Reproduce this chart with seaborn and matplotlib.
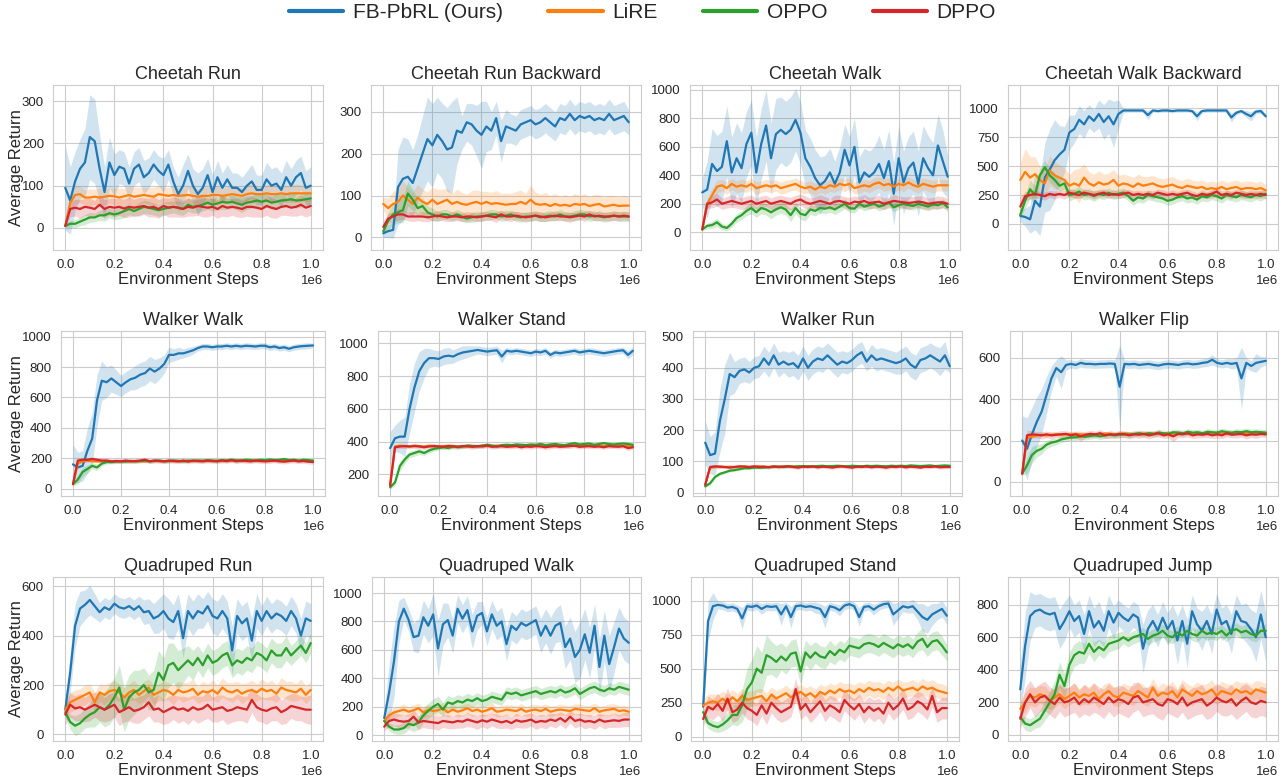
import numpy as np
import pandas as pd
import matplotlib
matplotlib.use("Agg")
import matplotlib.pyplot as plt
from matplotlib.lines import Line2D
from matplotlib.ticker import MultipleLocator
import matplotlib.transforms as mtransforms
import seaborn as sns

# evaluation checkpoints (every 20k environment steps)
steps = np.linspace(0, 1_000_000, 51)
methods = ["FB-PbRL (Ours)", "LiRE", "OPPO", "DPPO"]
colors = ["#1f77b4", "#ff7f0e", "#2ca02c", "#d62728"]

# ---------------- Cheetah Run ----------------
cr_fb = [95, 65, 110, 140, 155, 215, 205, 140, 85, 155,
         125, 145, 140, 105, 140, 150, 120, 130, 150, 135,
         125, 150, 110, 80, 100, 135, 100, 80, 95, 125,
         85, 120, 95, 115, 95, 95, 85, 100, 110, 90,
         90, 115, 100, 105, 90, 120, 100, 120, 130, 95,
         100]
cr_fb_sd = [100, 80, 70, 70, 80, 100, 100, 80, 60, 60,
            50, 40, 40, 40, 40, 40, 40, 35, 35, 35,
            40, 35, 35, 40, 50, 40, 40, 50, 45, 40,
            40, 40, 35, 35, 35, 35, 35, 35, 40, 35,
            35, 40, 40, 40, 40, 40, 40, 40, 40, 40,
            45]
cr_lire = [5, 60, 78, 80, 72, 72, 74, 72, 74, 76,
           75, 72, 75, 78, 74, 76, 78, 76, 74, 80,
           78, 76, 78, 76, 77, 78, 76, 74, 76, 76,
           78, 78, 76, 78, 80, 78, 76, 80, 82, 80,
           80, 82, 80, 80, 82, 80, 82, 82, 82, 82,
           82]
cr_lire_sd = [5, 20, 22, 20, 18, 20, 18, 22, 20, 18,
              20, 22, 18, 20, 22, 20, 18, 20, 22, 20,
              18, 20, 22, 20, 18, 20, 22, 18, 20, 20,
              22, 20, 18, 20, 22, 20, 18, 20, 22, 20,
              18, 20, 22, 20, 18, 20, 20, 22, 20, 18,
              20]
cr_oppo = [5, 10, 10, 15, 20, 25, 25, 30, 30, 35,
           32, 35, 40, 45, 40, 45, 50, 48, 45, 42,
           45, 48, 50, 48, 45, 55, 50, 52, 55, 60,
           55, 58, 62, 60, 62, 58, 55, 60, 62, 65,
           62, 65, 60, 62, 65, 66, 68, 65, 66, 68,
           70]
cr_oppo_sd = [5, 8, 10, 10, 12, 12, 10, 12, 14, 12,
              12, 14, 15, 14, 12, 15, 16, 15, 14, 15,
              16, 15, 14, 16, 15, 16, 15, 16, 15, 16,
              15, 16, 18, 16, 15, 16, 18, 16, 15, 16,
              18, 16, 15, 18, 16, 15, 16, 18, 16, 15,
              16]
cr_dppo = [5, 45, 48, 45, 50, 48, 45, 55, 45, 50,
           48, 50, 46, 50, 48, 50, 52, 48, 50, 45,
           52, 48, 50, 48, 45, 50, 48, 52, 50, 48,
           50, 45, 52, 48, 50, 48, 45, 50, 50, 48,
           45, 52, 48, 45, 50, 52, 48, 50, 55, 48,
           52]
cr_dppo_sd = [5, 18, 20, 22, 20, 22, 20, 24, 22, 20,
              22, 20, 22, 24, 20, 22, 20, 22, 24, 22,
              20, 22, 24, 22, 20, 22, 20, 22, 24, 22,
              20, 22, 24, 22, 20, 22, 20, 22, 24, 22,
              20, 22, 24, 22, 20, 22, 20, 22, 24, 22,
              22]

# ---------------- Cheetah Run Backward ----------------
crb_fb = [10, 15, 18, 120, 140, 145, 130, 165, 200, 235,
          220, 245, 230, 210, 215, 255, 250, 275, 270, 255,
          245, 265, 255, 285, 230, 265, 260, 255, 270, 275,
          280, 270, 275, 285, 275, 265, 285, 280, 295, 280,
          290, 285, 290, 280, 285, 280, 295, 280, 285, 290,
          275]
crb_fb_sd = [10, 15, 20, 90, 100, 90, 80, 80, 90, 100,
             100, 90, 90, 100, 110, 80, 40, 45, 50, 60,
             80, 60, 45, 40, 50, 40, 35, 35, 35, 35,
             35, 35, 35, 35, 35, 35, 35, 35, 35, 35,
             35, 35, 35, 35, 35, 35, 35, 35, 35, 35,
             30]
crb_lire = [80, 70, 80, 85, 100, 90, 80, 95, 85, 80,
            90, 80, 85, 90, 80, 85, 80, 78, 82, 85,
            80, 85, 80, 82, 80, 78, 80, 80, 85, 80,
            90, 80, 78, 80, 75, 80, 76, 78, 75, 80,
            78, 80, 75, 78, 80, 74, 76, 78, 75, 76,
            76]
crb_lire_sd = [15, 25, 30, 30, 35, 30, 28, 32, 30, 28,
               30, 35, 30, 28, 25, 30, 28, 25, 30, 28,
               30, 25, 28, 30, 25, 28, 25, 30, 28, 25,
               35, 28, 25, 28, 25, 25, 22, 25, 22, 25,
               22, 25, 22, 25, 22, 22, 25, 22, 22, 25,
               22]
crb_oppo = [15, 40, 55, 60, 65, 105, 90, 70, 75, 60,
            55, 50, 55, 55, 50, 55, 50, 45, 48, 50,
            50, 52, 55, 55, 50, 52, 55, 50, 48, 50,
            50, 52, 48, 50, 52, 50, 55, 50, 50, 52,
            55, 55, 50, 52, 50, 48, 50, 52, 50, 50,
            50]
crb_oppo_sd = [10, 20, 25, 25, 30, 30, 25, 20, 20, 15,
               15, 12, 12, 12, 10, 12, 12, 10, 12, 12,
               10, 12, 12, 10, 12, 12, 10, 12, 12, 10,
               12, 12, 10, 12, 12, 10, 12, 12, 10, 12,
               12, 10, 12, 12, 10, 12, 12, 10, 12, 12,
               12]
crb_dppo = [25, 45, 50, 55, 55, 50, 50, 50, 50, 48,
            50, 52, 50, 48, 50, 50, 48, 50, 50, 48,
            50, 52, 50, 48, 55, 50, 50, 52, 50, 48,
            50, 52, 50, 48, 50, 52, 50, 50, 48, 50,
            52, 50, 55, 50, 52, 50, 50, 52, 50, 52,
            50]
crb_dppo_sd = [15, 12, 12, 14, 12, 10, 12, 10, 12, 10,
               10, 12, 10, 10, 12, 10, 10, 12, 10, 10,
               12, 10, 10, 12, 10, 10, 12, 10, 10, 12,
               10, 10, 12, 10, 10, 12, 10, 10, 12, 10,
               10, 12, 10, 10, 12, 10, 10, 12, 10, 10,
               10]

# ---------------- Cheetah Walk ----------------
cw_fb = [280, 300, 480, 430, 460, 640, 420, 520, 450, 620,
         700, 420, 620, 750, 520, 690, 720, 690, 720, 790,
         700, 520, 460, 380, 330, 360, 420, 340, 420, 580,
         470, 600, 350, 420, 390, 420, 480, 380, 500, 270,
         520, 350, 450, 490, 340, 520, 450, 400, 610, 500,
         390]
cw_fb_sd = [100, 200, 250, 250, 250, 250, 250, 250, 250, 230,
            230, 250, 250, 250, 250, 250, 230, 230, 230, 220,
            220, 200, 200, 200, 200, 180, 170, 160, 180, 180,
            200, 200, 180, 170, 180, 180, 200, 200, 220, 220,
            230, 220, 220, 220, 230, 230, 230, 230, 220, 220,
            150]
cw_lire = [20, 200, 260, 320, 330, 310, 340, 320, 330, 320,
           340, 310, 320, 330, 320, 330, 310, 320, 330, 340,
           320, 310, 320, 300, 320, 310, 330, 320, 340, 330,
           340, 310, 320, 330, 320, 340, 350, 330, 340, 320,
           340, 330, 350, 330, 320, 340, 330, 320, 330, 330,
           330]
cw_lire_sd = [10, 40, 50, 45, 40, 45, 40, 42, 45, 40,
              42, 45, 40, 42, 45, 40, 42, 45, 40, 42,
              45, 40, 42, 45, 40, 42, 45, 40, 42, 45,
              40, 42, 45, 40, 42, 45, 40, 42, 45, 40,
              42, 45, 40, 42, 45, 40, 42, 45, 40, 42,
              40]
cw_oppo = [20, 45, 50, 70, 40, 30, 60, 100, 120, 150,
           170, 140, 170, 160, 140, 160, 175, 160, 120, 170,
           130, 120, 160, 150, 170, 165, 175, 160, 180, 200,
           170, 165, 200, 180, 190, 200, 180, 190, 210, 175,
           190, 200, 190, 185, 200, 190, 180, 195, 190, 205,
           175]
cw_oppo_sd = [10, 20, 25, 30, 25, 20, 25, 30, 30, 35,
              40, 35, 40, 40, 45, 40, 40, 40, 45, 40,
              40, 40, 35, 35, 35, 35, 35, 35, 35, 35,
              30, 30, 30, 30, 30, 30, 30, 30, 30, 30,
              30, 30, 30, 30, 30, 30, 30, 30, 30, 30,
              30]
cw_dppo = [20, 200, 210, 230, 200, 210, 220, 210, 200, 210,
           220, 200, 210, 220, 200, 210, 220, 210, 200, 220,
           230, 210, 200, 210, 220, 210, 200, 215, 220, 210,
           200, 215, 210, 220, 205, 210, 215, 200, 210, 220,
           215, 210, 205, 210, 215, 210, 200, 205, 210, 210,
           200]
cw_dppo_sd = [10, 30, 40, 45, 40, 40, 45, 40, 40, 45,
              40, 40, 45, 40, 40, 45, 40, 40, 45, 40,
              40, 45, 40, 40, 45, 40, 40, 45, 40, 40,
              45, 40, 40, 45, 40, 40, 45, 40, 40, 45,
              40, 40, 45, 40, 40, 45, 40, 40, 45, 40,
              40]

# ---------------- Cheetah Walk Backward ----------------
cwb_fb = [70, 60, 40, 200, 150, 400, 470, 550, 600, 640,
          790, 820, 900, 860, 930, 890, 950, 880, 930, 860,
          950, 980, 980, 980, 980, 980, 940, 980, 975, 980,
          980, 975, 980, 980, 980, 975, 930, 975, 980, 980,
          980, 980, 980, 920, 960, 975, 950, 930, 970, 975,
          930]
cwb_fb_sd = [50, 80, 120, 250, 250, 300, 350, 350, 250, 200,
             150, 120, 120, 120, 100, 100, 120, 150, 150, 200,
             120, 20, 15, 15, 15, 15, 40, 15, 15, 15,
             15, 15, 15, 15, 15, 15, 40, 15, 15, 15,
             15, 15, 15, 40, 20, 15, 30, 40, 20, 20,
             20]
cwb_lire = [380, 450, 400, 430, 380, 350, 460, 420, 400, 380,
            330, 350, 330, 400, 350, 330, 360, 340, 350, 380,
            330, 350, 340, 320, 350, 330, 340, 350, 330, 320,
            330, 340, 320, 310, 330, 320, 310, 320, 300, 310,
            300, 320, 300, 310, 320, 300, 310, 310, 300, 310,
            290]
cwb_lire_sd = [150, 200, 180, 150, 120, 120, 130, 120, 110, 100,
               100, 120, 150, 120, 100, 100, 100, 90, 90, 90,
               90, 80, 80, 80, 80, 80, 70, 70, 70, 70,
               70, 70, 65, 65, 65, 60, 60, 60, 60, 60,
               60, 60, 60, 60, 60, 60, 60, 60, 60, 60,
               50]
cwb_oppo = [80, 200, 300, 250, 420, 490, 420, 380, 330, 350,
            250, 260, 280, 250, 260, 240, 260, 250, 270, 250,
            260, 270, 240, 200, 230, 220, 250, 240, 230, 220,
            200, 210, 230, 240, 220, 230, 210, 240, 230, 250,
            240, 220, 250, 240, 230, 250, 240, 230, 250, 240,
            260]
cwb_oppo_sd = [40, 60, 80, 80, 60, 60, 60, 60, 50, 50,
               50, 45, 45, 45, 45, 45, 40, 40, 40, 40,
               40, 40, 40, 40, 40, 40, 40, 40, 40, 40,
               40, 40, 40, 40, 40, 40, 40, 40, 40, 40,
               40, 40, 40, 40, 40, 40, 40, 40, 40, 40,
               40]
cwb_dppo = [150, 240, 250, 260, 250, 240, 260, 250, 260, 250,
            270, 260, 250, 270, 260, 250, 260, 270, 250, 260,
            250, 260, 270, 250, 260, 250, 260, 250, 270, 260,
            250, 260, 250, 260, 270, 250, 240, 260, 250, 260,
            280, 250, 260, 250, 270, 260, 250, 260, 250, 260,
            250]
cwb_dppo_sd = [80, 40, 35, 35, 30, 35, 30, 35, 30, 35,
               30, 35, 30, 35, 30, 35, 30, 35, 30, 35,
               30, 35, 30, 35, 30, 35, 30, 35, 30, 35,
               30, 35, 30, 35, 30, 35, 30, 35, 30, 35,
               50, 35, 30, 35, 30, 35, 30, 35, 30, 35,
               30]

# ---------------- Walker Walk ----------------
ww_fb = [160, 140, 150, 250, 330, 580, 710, 700, 725, 700,
         675, 700, 720, 730, 750, 760, 790, 770, 790, 820,
         880, 880, 890, 890, 900, 910, 925, 935, 935, 930,
         935, 935, 940, 935, 940, 935, 940, 938, 935, 940,
         940, 930, 935, 925, 930, 920, 930, 935, 938, 940,
         942]
ww_fb_sd = [130, 100, 100, 150, 170, 170, 130, 100, 90, 80,
            70, 70, 70, 80, 80, 80, 80, 80, 70, 60,
            50, 40, 40, 30, 30, 25, 20, 20, 20, 20,
            20, 20, 20, 20, 20, 20, 20, 20, 20, 20,
            20, 20, 20, 20, 20, 20, 20, 20, 20, 20,
            15]
ww_lire = [30, 165, 180, 185, 180, 180, 180, 182, 180, 182,
           180, 182, 183, 180, 182, 180, 182, 184, 182, 180,
           182, 182, 180, 182, 182, 183, 182, 184, 182, 182,
           183, 182, 182, 183, 184, 182, 183, 182, 184, 182,
           183, 182, 184, 183, 182, 183, 184, 182, 183, 182,
           180]
ww_lire_sd = [10, 10, 8, 8, 8, 8, 8, 8, 8, 8,
              8, 8, 8, 8, 8, 8, 8, 8, 8, 8,
              8, 8, 8, 8, 8, 8, 8, 8, 8, 8,
              8, 8, 8, 8, 8, 8, 8, 8, 8, 8,
              8, 8, 8, 8, 8, 8, 8, 8, 8, 8,
              8]
ww_oppo = [30, 60, 110, 130, 150, 140, 165, 175, 175, 178,
           180, 178, 182, 180, 182, 185, 180, 182, 185, 180,
           182, 185, 183, 180, 185, 182, 185, 183, 187, 185,
           183, 188, 185, 190, 187, 185, 190, 188, 185, 190,
           188, 192, 188, 190, 195, 188, 190, 185, 190, 188,
           185]
ww_oppo_sd = [10, 30, 30, 25, 20, 20, 15, 12, 12, 12,
              12, 12, 12, 12, 12, 12, 12, 12, 12, 12,
              12, 12, 12, 12, 12, 12, 12, 12, 12, 12,
              12, 12, 12, 12, 12, 12, 12, 12, 12, 12,
              12, 12, 12, 12, 12, 12, 12, 12, 12, 12,
              12]
ww_dppo = [30, 185, 190, 190, 195, 190, 185, 185, 180, 182,
           180, 185, 180, 182, 185, 190, 180, 185, 182, 180,
           185, 182, 180, 185, 178, 185, 182, 180, 185, 182,
           180, 185, 182, 188, 180, 185, 182, 180, 185, 182,
           180, 182, 185, 180, 178, 182, 185, 180, 182, 178,
           175]
ww_dppo_sd = [10, 15, 15, 15, 15, 15, 15, 15, 15, 15,
              15, 15, 15, 15, 15, 15, 15, 15, 15, 15,
              15, 15, 15, 15, 15, 15, 15, 15, 15, 15,
              15, 15, 15, 15, 15, 15, 15, 15, 15, 15,
              15, 15, 15, 15, 15, 15, 15, 15, 15, 15,
              15]

# ---------------- Walker Stand ----------------
ws_fb = [360, 420, 430, 430, 600, 730, 830, 880, 910, 910,
         905, 920, 925, 920, 935, 945, 950, 955, 960, 955,
         950, 955, 958, 920, 955, 950, 955, 950, 945, 940,
         950, 945, 955, 930, 945, 940, 945, 950, 955, 945,
         950, 955, 950, 945, 940, 945, 950, 955, 958, 930,
         955]
ws_fb_sd = [100, 80, 100, 120, 150, 150, 120, 90, 60, 50,
            50, 50, 50, 40, 40, 40, 35, 30, 25, 25,
            25, 25, 25, 40, 20, 20, 20, 20, 20, 20,
            20, 20, 20, 20, 20, 20, 20, 20, 20, 20,
            20, 20, 20, 20, 20, 20, 20, 20, 20, 25,
            25]
ws_lire = [140, 370, 375, 372, 370, 375, 372, 370, 375, 373,
           370, 372, 375, 373, 370, 372, 375, 374, 372, 375,
           373, 372, 375, 374, 372, 375, 374, 373, 375, 372,
           374, 375, 373, 372, 375, 374, 373, 375, 374, 372,
           375, 373, 374, 375, 373, 374, 372, 375, 373, 372,
           370]
ws_lire_sd = [20, 8, 8, 10, 8, 8, 10, 8, 8, 10,
              8, 8, 10, 8, 8, 10, 8, 8, 10, 8,
              8, 10, 8, 8, 10, 8, 8, 10, 8, 8,
              10, 8, 8, 10, 8, 8, 10, 8, 8, 10,
              8, 8, 10, 8, 8, 10, 8, 8, 10, 8,
              8]
ws_oppo = [120, 150, 250, 290, 320, 330, 340, 330, 345, 355,
           360, 365, 360, 370, 365, 370, 375, 372, 370, 375,
           380, 375, 370, 378, 380, 378, 382, 380, 378, 382,
           380, 385, 378, 382, 385, 380, 378, 385, 390, 382,
           385, 388, 380, 385, 390, 385, 382, 385, 388, 385,
           380]
ws_oppo_sd = [10, 20, 30, 25, 20, 20, 18, 15, 15, 15,
              12, 12, 12, 12, 12, 12, 12, 12, 12, 12,
              12, 12, 12, 12, 12, 12, 12, 12, 12, 12,
              12, 12, 12, 12, 12, 12, 12, 12, 12, 12,
              12, 12, 12, 12, 12, 12, 12, 12, 12, 12,
              12]
ws_dppo = [130, 365, 370, 372, 370, 372, 370, 365, 370, 372,
           370, 368, 372, 370, 368, 372, 370, 368, 372, 370,
           375, 368, 370, 372, 368, 370, 372, 365, 370, 368,
           372, 370, 365, 370, 372, 368, 370, 372, 375, 368,
           370, 372, 368, 370, 365, 372, 370, 368, 372, 360,
           365]
ws_dppo_sd = [20, 12, 12, 14, 12, 15, 12, 14, 12, 15,
              12, 14, 12, 15, 12, 14, 12, 15, 12, 14,
              12, 15, 12, 14, 12, 15, 12, 14, 12, 15,
              12, 14, 12, 15, 12, 14, 12, 15, 12, 14,
              12, 15, 12, 14, 12, 15, 12, 14, 12, 15,
              12]

# ---------------- Walker Run ----------------
wr_fb = [160, 120, 125, 230, 300, 380, 370, 390, 395, 385,
         400, 405, 430, 410, 440, 410, 420, 410, 415, 400,
         430, 400, 420, 430, 425, 440, 425, 410, 420, 415,
         425, 440, 450, 420, 440, 425, 430, 425, 420, 415,
         420, 430, 410, 400, 425, 430, 440, 430, 420, 440,
         405]
wr_fb_sd = [70, 60, 70, 100, 110, 70, 50, 40, 40, 35,
            35, 35, 40, 40, 40, 40, 35, 40, 40, 40,
            40, 40, 40, 40, 40, 40, 40, 40, 35, 35,
            35, 35, 35, 30, 35, 35, 35, 35, 35, 35,
            40, 40, 40, 40, 40, 40, 40, 40, 45, 45,
            20]
wr_lire = [25, 80, 82, 83, 82, 83, 82, 83, 84, 82,
           83, 84, 83, 82, 84, 83, 84, 85, 83, 84,
           83, 85, 84, 83, 84, 85, 84, 83, 85, 84,
           83, 84, 85, 84, 83, 85, 84, 83, 84, 85,
           84, 83, 85, 84, 83, 84, 85, 84, 83, 84,
           84]
wr_lire_sd = [3, 4, 3, 4, 3, 4, 3, 4, 3, 4,
              3, 4, 3, 4, 3, 4, 3, 4, 3, 4,
              3, 4, 3, 4, 3, 4, 3, 4, 3, 4,
              3, 4, 3, 4, 3, 4, 3, 4, 3, 4,
              3, 4, 3, 4, 3, 4, 3, 4, 3, 4,
              3]
wr_oppo = [20, 30, 50, 60, 65, 70, 72, 75, 78, 78,
           80, 80, 80, 82, 82, 83, 82, 84, 83, 84,
           85, 84, 83, 85, 86, 84, 85, 86, 85, 84,
           86, 85, 84, 86, 85, 86, 85, 84, 86, 85,
           86, 85, 87, 86, 85, 86, 87, 85, 86, 87,
           86]
wr_oppo_sd = [4, 6, 5, 5, 4, 4, 4, 4, 4, 4,
              4, 4, 4, 4, 4, 4, 4, 4, 4, 4,
              4, 4, 4, 4, 4, 4, 4, 4, 4, 4,
              4, 4, 4, 4, 4, 4, 4, 4, 4, 4,
              4, 4, 4, 4, 4, 4, 4, 4, 4, 4,
              4]
wr_dppo = [25, 82, 84, 83, 82, 80, 82, 84, 83, 82,
           84, 82, 83, 81, 84, 82, 83, 84, 82, 80,
           83, 82, 84, 81, 83, 82, 80, 83, 84, 82,
           80, 83, 82, 84, 81, 83, 82, 80, 83, 82,
           84, 81, 83, 82, 80, 83, 82, 84, 81, 82,
           82]
wr_dppo_sd = [4, 5, 5, 6, 5, 6, 5, 6, 5, 6,
              5, 6, 5, 6, 5, 6, 5, 6, 5, 6,
              5, 6, 5, 6, 5, 6, 5, 6, 5, 6,
              5, 6, 5, 6, 5, 6, 5, 6, 5, 6,
              5, 6, 5, 6, 5, 6, 5, 6, 5, 6,
              5]

# ---------------- Walker Flip ----------------
wf_fb = [200, 160, 230, 290, 340, 420, 500, 550, 530, 565,
         570, 565, 575, 570, 570, 568, 570, 570, 572, 570,
         460, 570, 568, 570, 565, 568, 570, 565, 562, 568,
         570, 568, 565, 570, 572, 568, 570, 575, 578, 590,
         575, 570, 575, 570, 575, 500, 575, 560, 575, 580,
         585]
wf_fb_sd = [120, 150, 130, 120, 110, 90, 60, 40, 80, 25,
            20, 20, 20, 20, 20, 20, 20, 20, 20, 20,
            200, 20, 20, 20, 20, 20, 20, 20, 20, 20,
            20, 20, 20, 20, 20, 20, 20, 20, 20, 25,
            20, 20, 20, 25, 25, 150, 25, 25, 45, 25,
            20]
wf_lire = [40, 210, 220, 225, 228, 225, 228, 230, 228, 230,
           230, 232, 230, 228, 232, 230, 232, 234, 232, 230,
           232, 234, 232, 230, 234, 232, 235, 233, 232, 234,
           235, 233, 234, 236, 234, 235, 233, 236, 235, 234,
           236, 235, 234, 236, 235, 237, 235, 236, 237, 235,
           236]
wf_lire_sd = [10, 10, 8, 8, 8, 8, 8, 8, 8, 8,
              8, 8, 8, 8, 8, 8, 8, 8, 8, 8,
              8, 8, 8, 8, 8, 8, 8, 8, 8, 8,
              8, 8, 8, 8, 8, 8, 8, 8, 8, 8,
              8, 8, 8, 8, 8, 8, 8, 8, 8, 8,
              8]
wf_oppo = [40, 80, 130, 150, 160, 180, 190, 195, 205, 210,
           215, 215, 220, 218, 222, 225, 220, 225, 228, 225,
           228, 230, 228, 232, 235, 230, 235, 232, 238, 235,
           232, 240, 238, 235, 242, 238, 240, 235, 242, 240,
           238, 245, 240, 238, 242, 240, 245, 240, 242, 240,
           238]
wf_oppo_sd = [10, 40, 40, 30, 25, 20, 18, 15, 15, 15,
              15, 15, 15, 15, 15, 15, 15, 15, 15, 15,
              15, 15, 15, 15, 15, 15, 15, 15, 15, 15,
              15, 15, 15, 15, 15, 15, 15, 15, 15, 15,
              15, 15, 15, 15, 15, 15, 15, 15, 15, 15,
              15]
wf_dppo = [40, 225, 230, 228, 225, 230, 225, 228, 230, 232,
           225, 230, 220, 228, 232, 230, 235, 225, 230, 228,
           232, 230, 225, 230, 228, 232, 225, 230, 235, 225,
           230, 220, 232, 230, 235, 225, 230, 228, 232, 225,
           230, 225, 235, 228, 230, 232, 225, 230, 228, 232,
           230]
wf_dppo_sd = [10, 25, 18, 15, 18, 15, 18, 15, 18, 15,
              18, 15, 25, 15, 18, 15, 18, 15, 18, 15,
              18, 15, 18, 15, 18, 15, 18, 15, 18, 15,
              18, 25, 18, 15, 18, 15, 18, 15, 18, 15,
              18, 15, 18, 15, 18, 15, 18, 15, 18, 15,
              15]

# ---------------- Quadruped Run ----------------
qr_fb = [100, 250, 440, 510, 525, 545, 520, 495, 515, 505,
         530, 515, 510, 520, 505, 520, 495, 500, 470, 480,
         500, 470, 455, 500, 390, 500, 470, 500, 490, 520,
         480, 470, 500, 470, 340, 480, 450, 470, 380, 500,
         460, 500, 470, 490, 480, 460, 500, 470, 400, 470,
         460]
qr_fb_sd = [40, 80, 90, 70, 60, 60, 50, 40, 40, 40,
            40, 40, 40, 40, 40, 40, 50, 50, 60, 70,
            70, 80, 70, 70, 80, 70, 70, 70, 60, 60,
            70, 70, 70, 70, 100, 70, 70, 70, 90, 70,
            60, 60, 60, 60, 60, 60, 60, 60, 70, 70,
            70]
qr_lire = [100, 130, 140, 150, 160, 170, 130, 170, 160, 175,
           180, 170, 150, 170, 180, 160, 175, 190, 160, 170,
           180, 175, 160, 180, 170, 175, 185, 160, 175, 170,
           180, 165, 190, 175, 170, 180, 165, 175, 180, 170,
           185, 175, 180, 165, 190, 180, 175, 170, 185, 160,
           180]
qr_lire_sd = [30, 40, 40, 35, 40, 35, 40, 35, 40, 35,
              40, 35, 40, 35, 40, 35, 40, 35, 40, 35,
              40, 35, 40, 35, 40, 35, 40, 35, 40, 35,
              40, 35, 40, 35, 40, 35, 40, 35, 40, 35,
              40, 35, 40, 35, 40, 35, 40, 35, 40, 35,
              35]
qr_oppo = [90, 50, 35, 45, 65, 80, 90, 110, 100, 120,
           150, 190, 100, 150, 170, 180, 200, 170, 180, 250,
           220, 280, 290, 260, 280, 300, 280, 310, 280, 320,
           290, 300, 320, 330, 280, 300, 290, 310, 300, 330,
           320, 300, 340, 320, 320, 350, 320, 340, 360, 330,
           370]
qr_oppo_sd = [20, 30, 40, 40, 40, 50, 60, 60, 70, 80,
              80, 90, 90, 90, 90, 80, 70, 70, 80, 90,
              90, 90, 80, 80, 70, 60, 60, 50, 50, 50,
              50, 50, 50, 50, 50, 50, 50, 50, 50, 50,
              50, 50, 50, 50, 50, 50, 40, 40, 40, 40,
              40]
qr_dppo = [80, 120, 105, 110, 100, 110, 120, 110, 100, 110,
           120, 90, 100, 110, 95, 100, 110, 130, 100, 105,
           90, 100, 110, 100, 105, 95, 110, 100, 105, 120,
           100, 105, 110, 95, 100, 110, 105, 100, 140, 110,
           100, 95, 105, 110, 90, 100, 115, 110, 105, 100,
           100]
qr_dppo_sd = [40, 50, 50, 55, 50, 55, 50, 55, 50, 55,
              50, 55, 50, 55, 50, 55, 50, 55, 50, 55,
              50, 55, 50, 55, 50, 55, 50, 55, 50, 55,
              50, 55, 50, 55, 50, 55, 50, 55, 50, 55,
              50, 55, 50, 55, 50, 55, 50, 55, 50, 55,
              60]

# ---------------- Quadruped Walk ----------------
qw_fb = [120, 300, 520, 800, 890, 810, 690, 700, 830, 770,
         850, 610, 780, 810, 700, 890, 820, 880, 730, 840,
         860, 730, 850, 770, 800, 640, 770, 740, 790, 770,
         790, 810, 700, 770, 700, 770, 790, 620, 680, 550,
         600, 710, 580, 770, 480, 700, 500, 620, 750, 680,
         650]
qw_fb_sd = [50, 200, 250, 150, 80, 80, 100, 120, 120, 120,
            150, 200, 150, 120, 120, 100, 100, 100, 120, 100,
            80, 100, 100, 100, 100, 120, 100, 100, 100, 100,
            100, 100, 120, 120, 130, 120, 130, 150, 150, 180,
            200, 180, 180, 150, 200, 180, 200, 180, 150, 150,
            150]
qw_lire = [100, 140, 160, 170, 180, 165, 175, 190, 160, 180,
           170, 175, 190, 160, 180, 165, 175, 190, 170, 180,
           165, 175, 190, 165, 170, 180, 175, 170, 185, 165,
           175, 180, 170, 185, 165, 175, 180, 175, 170, 185,
           180, 175, 170, 190, 165, 175, 180, 185, 170, 175,
           165]
qw_lire_sd = [30, 35, 40, 35, 40, 35, 40, 35, 40, 35,
              40, 35, 40, 35, 40, 35, 40, 35, 40, 35,
              40, 35, 40, 35, 40, 35, 40, 35, 40, 35,
              40, 35, 40, 35, 40, 35, 40, 35, 40, 35,
              40, 35, 40, 35, 40, 35, 40, 35, 40, 35,
              35]
qw_oppo = [100, 60, 40, 40, 50, 80, 70, 90, 140, 170,
           200, 220, 180, 230, 220, 240, 230, 250, 240, 260,
           240, 250, 270, 260, 250, 300, 290, 300, 280, 290,
           300, 310, 290, 300, 310, 300, 320, 300, 310, 330,
           290, 310, 330, 340, 320, 310, 330, 320, 340, 330,
           320]
qw_oppo_sd = [30, 30, 30, 35, 40, 40, 45, 50, 55, 55,
              55, 55, 50, 50, 45, 45, 45, 45, 40, 40,
              40, 40, 40, 40, 40, 40, 40, 40, 40, 40,
              40, 40, 40, 40, 40, 40, 40, 40, 40, 40,
              40, 40, 40, 40, 40, 40, 40, 40, 40, 40,
              40]
qw_dppo = [60, 100, 110, 100, 95, 100, 130, 90, 100, 95,
           90, 85, 100, 95, 90, 100, 95, 110, 100, 90,
           105, 95, 110, 100, 90, 100, 85, 105, 95, 100,
           110, 90, 100, 95, 110, 100, 120, 95, 130, 100,
           110, 95, 100, 90, 110, 95, 100, 105, 100, 110,
           110]
qw_dppo_sd = [30, 40, 45, 50, 45, 50, 45, 50, 45, 50,
              45, 50, 45, 50, 45, 50, 45, 50, 45, 50,
              45, 50, 45, 50, 45, 50, 45, 50, 45, 50,
              45, 50, 45, 50, 45, 50, 45, 50, 45, 50,
              45, 50, 45, 50, 45, 50, 45, 50, 45, 50,
              50]

# ---------------- Quadruped Stand ----------------
qs_fb = [220, 850, 960, 970, 965, 950, 955, 940, 870, 960,
         955, 965, 940, 960, 955, 960, 900, 960, 880, 960,
         965, 955, 960, 950, 940, 880, 960, 950, 930, 965,
         975, 960, 880, 955, 960, 935, 960, 975, 980, 900,
         930, 960, 950, 960, 920, 880, 860, 900, 920, 940,
         890]
qs_fb_sd = [50, 150, 100, 30, 30, 30, 30, 30, 80, 30,
            30, 30, 40, 30, 30, 30, 80, 30, 80, 30,
            30, 30, 30, 40, 40, 80, 30, 30, 40, 30,
            30, 30, 70, 30, 30, 40, 30, 30, 30, 80,
            60, 40, 40, 50, 60, 100, 100, 80, 60, 60,
            60]
qs_lire = [230, 250, 260, 250, 280, 250, 290, 260, 300, 270,
           280, 290, 300, 260, 310, 280, 300, 320, 290, 310,
           330, 300, 320, 290, 330, 310, 340, 320, 350, 330,
           340, 320, 350, 330, 360, 340, 350, 330, 360, 340,
           370, 340, 350, 360, 340, 370, 350, 360, 340, 330,
           320]
qs_lire_sd = [50, 60, 55, 60, 55, 60, 55, 60, 55, 60,
              55, 60, 55, 60, 55, 60, 55, 60, 55, 60,
              55, 60, 55, 60, 55, 60, 55, 60, 55, 60,
              55, 60, 55, 60, 55, 60, 55, 60, 55, 60,
              55, 60, 55, 60, 55, 60, 55, 60, 55, 60,
              55]
qs_oppo = [180, 100, 80, 70, 90, 120, 160, 160, 230, 350,
           400, 500, 470, 600, 580, 550, 590, 560, 610, 620,
           480, 620, 580, 620, 590, 580, 630, 600, 640, 620,
           670, 660, 650, 680, 690, 680, 660, 690, 670, 650,
           680, 660, 680, 650, 700, 720, 660, 700, 710, 670,
           620]
qs_oppo_sd = [40, 40, 40, 40, 50, 60, 70, 80, 120, 150,
              170, 170, 150, 150, 120, 120, 100, 100, 100, 100,
              100, 90, 90, 80, 80, 80, 80, 70, 70, 70,
              70, 70, 70, 70, 70, 70, 70, 70, 70, 70,
              70, 70, 70, 70, 70, 80, 70, 70, 70, 70,
              60]
qs_dppo = [130, 220, 200, 240, 190, 280, 180, 200, 250, 210,
           190, 160, 230, 170, 250, 210, 180, 200, 220, 350,
           200, 240, 180, 220, 260, 190, 230, 210, 180, 270,
           230, 200, 240, 180, 220, 190, 210, 170, 250, 200,
           230, 280, 200, 220, 260, 240, 200, 300, 180, 210,
           210]
qs_dppo_sd = [50, 80, 75, 80, 75, 80, 75, 80, 75, 80,
              75, 80, 75, 80, 75, 80, 75, 80, 75, 80,
              75, 80, 75, 80, 75, 80, 75, 80, 75, 80,
              75, 80, 75, 80, 75, 80, 75, 80, 75, 80,
              75, 80, 75, 80, 75, 80, 75, 80, 75, 80,
              80]

# ---------------- Quadruped Jump ----------------
qj_fb = [280, 550, 730, 760, 770, 750, 740, 750, 650, 700,
         760, 700, 730, 620, 760, 660, 700, 640, 760, 690,
         750, 720, 700, 740, 720, 530, 650, 700, 640, 720,
         650, 700, 580, 700, 560, 760, 680, 640, 700, 620,
         770, 680, 700, 620, 760, 700, 690, 650, 600, 740,
         600]
qj_fb_sd = [150, 200, 150, 100, 100, 100, 100, 100, 120, 120,
            100, 100, 100, 120, 100, 120, 120, 100, 100, 100,
            80, 80, 80, 80, 80, 150, 120, 100, 100, 100,
            100, 100, 150, 100, 150, 100, 100, 120, 100, 120,
            100, 100, 100, 120, 100, 100, 120, 120, 150, 150,
            150]
qj_lire = [160, 200, 240, 230, 250, 240, 210, 230, 250, 220,
           240, 260, 230, 250, 240, 260, 220, 250, 270, 240,
           230, 260, 250, 240, 270, 250, 230, 290, 240, 260,
           250, 270, 230, 280, 260, 240, 270, 250, 260, 280,
           240, 270, 260, 250, 280, 260, 270, 250, 280, 270,
           260]
qj_lire_sd = [50, 60, 55, 60, 55, 60, 55, 60, 55, 60,
              55, 60, 55, 60, 55, 60, 55, 60, 55, 60,
              55, 60, 55, 60, 55, 60, 55, 60, 55, 60,
              55, 60, 55, 60, 55, 60, 55, 60, 55, 60,
              55, 60, 55, 60, 55, 60, 55, 60, 55, 60,
              55]
qj_oppo = [110, 70, 60, 80, 100, 150, 200, 250, 370, 300,
           430, 490, 510, 500, 560, 510, 540, 520, 560, 570,
           580, 600, 580, 600, 610, 620, 590, 610, 620, 640,
           610, 600, 630, 610, 640, 620, 610, 640, 620, 630,
           620, 640, 610, 640, 650, 630, 640, 620, 610, 640,
           640]
qj_oppo_sd = [30, 40, 40, 40, 50, 60, 70, 80, 80, 80,
              80, 70, 70, 60, 60, 60, 50, 50, 50, 50,
              50, 40, 40, 40, 40, 40, 40, 40, 40, 40,
              40, 40, 40, 40, 40, 40, 40, 40, 40, 40,
              40, 40, 40, 40, 40, 40, 40, 40, 40, 40,
              40]
qj_dppo = [100, 200, 250, 200, 230, 240, 210, 190, 230, 200,
           210, 230, 190, 220, 200, 230, 210, 190, 230, 200,
           220, 210, 190, 230, 240, 200, 210, 220, 190, 180,
           220, 210, 190, 230, 180, 200, 210, 220, 180, 200,
           230, 210, 200, 220, 180, 210, 230, 200, 190, 210,
           200]
qj_dppo_sd = [60, 90, 85, 90, 85, 90, 85, 90, 85, 90,
              85, 90, 85, 90, 85, 90, 85, 90, 85, 90,
              85, 90, 85, 90, 85, 90, 85, 90, 85, 90,
              85, 90, 85, 90, 85, 90, 85, 90, 85, 90,
              85, 90, 85, 90, 85, 90, 85, 90, 85, 90,
              90]

task_names = ["Cheetah Run", "Cheetah Run Backward", "Cheetah Walk", "Cheetah Walk Backward",
              "Walker Walk", "Walker Stand", "Walker Run", "Walker Flip",
              "Quadruped Run", "Quadruped Walk", "Quadruped Stand", "Quadruped Jump"]
task_means = [
    [cr_fb, cr_lire, cr_oppo, cr_dppo],
    [crb_fb, crb_lire, crb_oppo, crb_dppo],
    [cw_fb, cw_lire, cw_oppo, cw_dppo],
    [cwb_fb, cwb_lire, cwb_oppo, cwb_dppo],
    [ww_fb, ww_lire, ww_oppo, ww_dppo],
    [ws_fb, ws_lire, ws_oppo, ws_dppo],
    [wr_fb, wr_lire, wr_oppo, wr_dppo],
    [wf_fb, wf_lire, wf_oppo, wf_dppo],
    [qr_fb, qr_lire, qr_oppo, qr_dppo],
    [qw_fb, qw_lire, qw_oppo, qw_dppo],
    [qs_fb, qs_lire, qs_oppo, qs_dppo],
    [qj_fb, qj_lire, qj_oppo, qj_dppo],
]
task_sds = [
    [cr_fb_sd, cr_lire_sd, cr_oppo_sd, cr_dppo_sd],
    [crb_fb_sd, crb_lire_sd, crb_oppo_sd, crb_dppo_sd],
    [cw_fb_sd, cw_lire_sd, cw_oppo_sd, cw_dppo_sd],
    [cwb_fb_sd, cwb_lire_sd, cwb_oppo_sd, cwb_dppo_sd],
    [ww_fb_sd, ww_lire_sd, ww_oppo_sd, ww_dppo_sd],
    [ws_fb_sd, ws_lire_sd, ws_oppo_sd, ws_dppo_sd],
    [wr_fb_sd, wr_lire_sd, wr_oppo_sd, wr_dppo_sd],
    [wf_fb_sd, wf_lire_sd, wf_oppo_sd, wf_dppo_sd],
    [qr_fb_sd, qr_lire_sd, qr_oppo_sd, qr_dppo_sd],
    [qw_fb_sd, qw_lire_sd, qw_oppo_sd, qw_dppo_sd],
    [qs_fb_sd, qs_lire_sd, qs_oppo_sd, qs_dppo_sd],
    [qj_fb_sd, qj_lire_sd, qj_oppo_sd, qj_dppo_sd],
]

# axis ranges and y tick spacing per task
y_limits = [(-52, 338), (-30, 364), (-125, 1035), (-225, 1200),
            (-48, 1037), (67, 1076), (-11, 518), (-68, 729),
            (-27, 638), (-41, 1113), (-32, 1175), (-37, 970)]
y_steps = [100, 100, 200, 250, 200, 200, 100, 200, 200, 200, 250, 200]

# panel boxes in pixels: left, right, top, bottom
W, H = 1285, 777
panel_px = [(53, 323, 85, 250), (371, 641, 85, 250), (690, 960, 85, 250), (1008, 1278, 85, 250),
            (61, 325, 331, 496), (378, 645, 331, 496), (693, 962, 331, 496), (1010, 1278, 331, 496),
            (53, 323, 577, 741), (372, 641, 577, 741), (691, 959, 577, 741), (1008, 1278, 577, 741)]

sns.set_style("whitegrid")
plt.rcParams["font.family"] = ["Liberation Sans", "DejaVu Sans"]

fig = plt.figure(figsize=(W / 100, H / 100), dpi=100)

for k in range(12):
    l, r, t, b = panel_px[k]
    ax = fig.add_axes([l / W, 1 - b / H, (r - l) / W, (b - t) / H])
    means = task_means[k]
    sds = task_sds[k]
    frames = []
    for name, m in zip(methods, means):
        frames.append(pd.DataFrame({"step": steps, "ret": np.asarray(m, float), "method": name}))
    df = pd.concat(frames, ignore_index=True)
    for m, s, c in zip(means, sds, colors):
        m = np.asarray(m, float)
        s = np.asarray(s, float)
        ax.fill_between(steps, m - s, m + s, color=c, alpha=0.2, linewidth=0, zorder=1)
    sns.lineplot(data=df, x="step", y="ret", hue="method", hue_order=methods,
                 palette=colors, linewidth=1.6, errorbar=None, legend=False, ax=ax)
    ax.set_title(task_names[k], fontsize=13, pad=4)
    ax.set_xlim(-50_000, 1_050_000)
    ax.set_ylim(*y_limits[k])
    ax.xaxis.set_major_locator(MultipleLocator(200_000))
    ax.yaxis.set_major_locator(MultipleLocator(y_steps[k]))
    ax.tick_params(labelsize=9.5, pad=3)
    ax.xaxis.get_offset_text().set_fontsize(9.5)
    ax.set_xlabel("Environment Steps", fontsize=12, labelpad=1)
    if k % 4 == 0:
        ax.set_ylabel("Average Return", fontsize=12)
        ax.yaxis.set_label_coords(24 / W, 0.5,
                                  transform=mtransforms.blended_transform_factory(fig.transFigure, ax.transAxes))
    else:
        ax.set_ylabel("")

handles = [Line2D([0], [0], color=c, linewidth=3) for c in colors]
fig.legend(handles, methods, loc="upper center", bbox_to_anchor=(0.5, 1.02),
           ncol=4, frameon=False, fontsize=15, handlelength=2.6,
           handletextpad=0.45, columnspacing=2.2)

fig.savefig("out.png", dpi=100)
